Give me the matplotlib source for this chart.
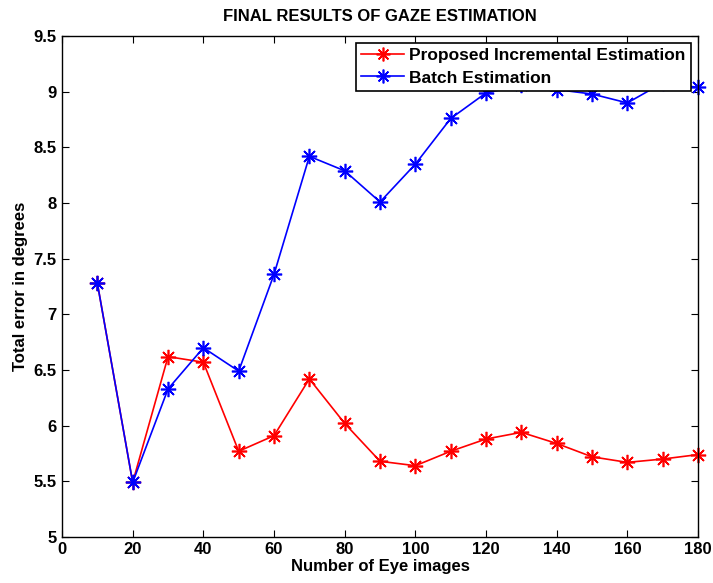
import matplotlib
matplotlib.use("Agg")
import matplotlib.pyplot as plt

plt.rcParams['font.family'] = ['Liberation Sans', 'DejaVu Sans']
plt.rcParams['font.weight'] = 'bold'

n_images = [10, 20, 30, 40, 50, 60, 70, 80, 90, 100, 110, 120, 130, 140, 150, 160, 170, 180]
incremental = [7.28, 5.49, 6.62, 6.57, 5.77, 5.91, 6.42, 6.02, 5.68, 5.64,
               5.77, 5.88, 5.94, 5.84, 5.72, 5.67, 5.70, 5.74]
batch = [7.28, 5.49, 6.33, 6.70, 6.49, 7.36, 8.42, 8.29, 8.01, 8.35,
         8.76, 8.99, 9.06, 9.02, 8.98, 8.90, 9.08, 9.04]

x_ticks = list(range(0, 181, 20))
y_ticks = [5, 5.5, 6, 6.5, 7, 7.5, 8, 8.5, 9, 9.5]
y_tick_labels = ['5', '5.5', '6', '6.5', '7', '7.5', '8', '8.5', '9', '9.5']

fig = plt.figure(figsize=(7.13, 5.83), dpi=100)
ax = fig.add_axes([0.087, 0.079, 0.892, 0.859])

asterisk = (8, 2, 0)
ax.plot(n_images, incremental, color='#ff0000', lw=1.2, marker=asterisk,
        markersize=11, markeredgewidth=1.2, label='Proposed Incremental Estimation',
        clip_on=False)
ax.plot(n_images, batch, color='#0000ff', lw=1.2, marker=asterisk,
        markersize=11, markeredgewidth=1.2, label='Batch Estimation',
        clip_on=False)

ax.set_xlim(0, 180)
ax.set_ylim(5, 9.5)
ax.set_xticks(x_ticks)
ax.set_yticks(y_ticks)
ax.set_yticklabels(y_tick_labels)
ax.tick_params(direction='in', top=True, right=True, length=5, width=0.8,
               labelsize=12, pad=4)
for lbl in ax.get_xticklabels() + ax.get_yticklabels():
    lbl.set_fontweight('bold')
for s in ax.spines.values():
    s.set_linewidth(1.0)

ax.set_xlabel('Number of Eye images', fontsize=12, fontweight='bold', labelpad=1)
ax.set_ylabel('Total error in degrees', fontsize=12, fontweight='bold', labelpad=4)
ax.set_title('FINAL RESULTS OF GAZE ESTIMATION', fontsize=12, fontweight='bold', pad=11)

leg = ax.legend(loc='upper right', fontsize=12.5, frameon=True, fancybox=False,
                framealpha=1.0, borderpad=0.3, labelspacing=0.4, handlelength=2.5,
                handletextpad=0.3, borderaxespad=0.4, markerscale=0.9)
leg.get_frame().set_edgecolor('black')
leg.get_frame().set_linewidth(1.2)
leg.set_zorder(5)
for t in leg.get_texts():
    t.set_fontweight('bold')

fig.savefig('out.png', dpi=100)
